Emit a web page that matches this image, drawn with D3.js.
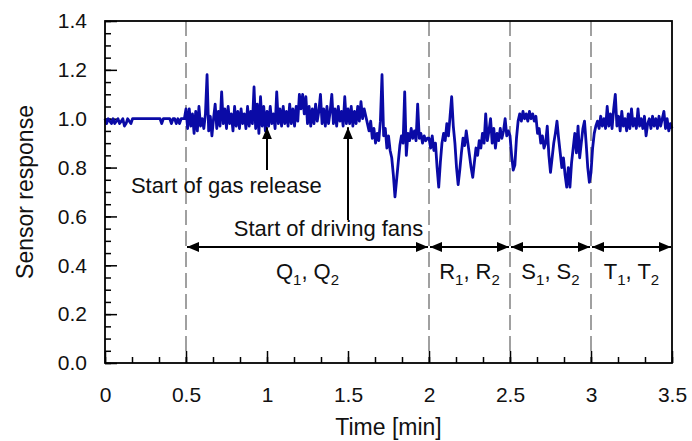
<!DOCTYPE html>
<html>
<head>
<meta charset="utf-8">
<script src="https://cdn.jsdelivr.net/npm/d3@7"></script>
<style>
  body { margin: 0; background: #fff; }
  text { font-family: Arial, "Liberation Sans", sans-serif; fill: #111; }
</style>
</head>
<body>
<svg id="chart" width="692" height="441"></svg>
<script>
// sampled every 0.01 min, one array per half minute
const dt = 0.01;
const seg0 = [1.00,0.98,1.00,0.99,0.98,1.00,0.98,0.99,1.00,0.98,
  0.99,1.00,0.97,0.98,1.00,0.99,0.98,1.00,1.00,1.00,
  1.00,1.00,1.00,1.00,1.00,1.00,1.00,1.00,1.00,1.00,
  1.00,1.00,1.00,1.00,1.00,0.98,1.00,1.00,1.00,1.00,
  1.00,0.98,1.00,1.00,0.98,1.00,0.98,1.00,1.00,1.00];
const seg1 = [1.04,0.96,1.04,0.97,1.02,0.94,1.03,0.95,1.05,0.97,
  1.00,0.96,1.02,1.18,0.95,1.01,0.93,1.00,1.06,0.96,
  1.03,0.97,1.11,0.98,1.04,0.96,1.05,0.98,1.02,0.95,
  1.05,0.97,1.03,0.96,1.04,0.98,1.02,0.96,1.05,0.97,
  1.03,0.98,1.13,0.96,1.06,0.94,1.09,0.97,1.05,0.95];
const seg2 = [1.03,0.97,1.05,0.98,1.02,0.96,1.11,0.98,1.04,0.97,
  1.05,0.98,1.03,0.97,1.06,0.98,1.04,0.97,1.05,0.99,
  1.10,1.04,1.10,1.02,1.09,0.98,1.05,0.97,1.04,0.98,
  1.06,0.99,1.03,1.10,0.98,1.04,0.97,1.05,0.98,1.03,
  1.10,0.98,1.04,0.97,1.05,0.99,1.03,0.97,1.09,0.98];
const seg3 = [1.04,0.98,1.05,0.97,1.03,0.98,1.05,0.99,1.07,1.00,
  1.04,1.01,0.98,0.95,0.99,0.92,0.96,0.90,0.94,0.91,
  0.99,1.18,0.93,0.96,0.88,0.93,0.87,0.84,0.77,0.68,
  0.75,0.82,0.89,0.93,0.90,1.11,0.85,0.94,0.91,0.96,
  0.92,0.95,0.91,1.06,0.92,0.94,0.90,0.93,0.91,0.92];
const seg4 = [0.92,0.88,0.93,0.87,0.90,0.80,0.72,0.82,0.90,0.94,
  0.91,0.98,0.93,1.01,1.09,0.97,0.90,0.80,0.73,0.79,
  0.86,0.92,0.89,0.95,0.90,0.85,0.80,0.76,0.82,0.88,
  0.85,0.91,0.88,0.94,0.90,1.02,0.91,0.95,1.00,0.90,
  0.96,0.88,0.94,0.91,0.96,0.92,0.95,1.00,0.93,0.95];
const seg5 = [0.93,0.85,0.79,0.81,0.92,0.99,1.02,0.99,1.03,1.00,
  1.02,0.99,1.03,1.00,1.02,0.99,1.01,0.94,0.96,0.90,
  0.93,0.88,0.90,0.97,0.85,0.78,0.84,0.90,0.94,0.99,
  0.92,0.86,0.80,0.84,0.77,0.72,0.80,0.72,0.82,0.88,
  0.94,0.86,0.97,0.84,0.90,0.96,0.99,0.90,0.80,0.74];
const seg6 = [0.78,0.88,0.94,0.97,0.99,0.96,1.01,0.97,1.00,0.96,
  1.05,0.97,1.02,0.96,1.04,1.10,0.97,1.01,0.95,1.03,
  0.97,1.00,0.95,1.02,0.96,1.04,0.97,1.00,0.96,1.04,
  0.97,1.00,0.96,1.01,0.93,0.98,1.00,0.96,1.01,0.97,
  1.00,0.96,1.01,0.97,1.00,1.03,0.96,1.00,0.95,0.98,
  0.96];

const xTicks = [0, 0.5, 1, 1.5, 2, 2.5, 3, 3.5];
const yTicks = [0, 0.2, 0.4, 0.6, 0.8, 1.0, 1.2, 1.4];
const dividers = [0.5, 2, 2.5, 3];
const phaseFrom = [0.5, 2, 2.5, 3];
const phaseTo = [2, 2.5, 3, 3.5];
const phaseLetter = ["Q", "R", "S", "T"];

const svg = d3.select("#chart");
const W = +svg.attr("width"), H = +svg.attr("height");
const m = {top: 21, right: 20, bottom: 78, left: 105};
const w = W - m.left - m.right, h = H - m.top - m.bottom;
const g = svg.append("g").attr("transform", `translate(${m.left},${m.top})`);

const x = d3.scaleLinear().domain([0, 3.5]).range([0, w]);
const y = d3.scaleLinear().domain([0, 1.4]).range([h, 0]);

const response = [].concat(seg0, seg1, seg2, seg3, seg4, seg5, seg6);
const data = response.map((v, i) => ({t: i * dt, v: v}));

// arrow head
const defs = svg.append("defs");
defs.append("marker").attr("id", "head")
  .attr("viewBox", "0 0 12 10").attr("refX", 12).attr("refY", 5)
  .attr("markerWidth", 12).attr("markerHeight", 10)
  .attr("markerUnits", "userSpaceOnUse").attr("orient", "auto-start-reverse")
  .append("path").attr("d", "M0,0L12,5L0,10Z").attr("fill", "#000");

// dashed phase dividers
g.selectAll(".div").data(dividers).enter().append("line")
  .attr("x1", d => x(d)).attr("x2", d => x(d))
  .attr("y1", 0).attr("y2", h)
  .attr("stroke", "#a0a0a0").attr("stroke-width", 2)
  .attr("stroke-dasharray", "15,6");

// minor ticks
const minorY = g.append("g").call(d3.axisLeft(y).tickValues(d3.range(0, 1.401, 0.05)).tickSize(-6).tickFormat(""));
const minorX = g.append("g").attr("transform", `translate(0,${h})`)
  .call(d3.axisBottom(x).tickValues(d3.range(0, 3.501, 1 / 6)).tickSize(-6).tickFormat(""));

// major ticks
const yAxis = g.append("g")
  .call(d3.axisLeft(y).tickValues(yTicks).tickSize(-12).tickPadding(18).tickFormat(d3.format(".1f")));
const xAxis = g.append("g").attr("transform", `translate(0,${h})`)
  .call(d3.axisBottom(x).tickValues(xTicks).tickSize(-12).tickPadding(24).tickFormat(d3.format("")));

[minorY, minorX, yAxis, xAxis].forEach(a => {
  a.select(".domain").remove();
  a.selectAll("line").attr("stroke", "#000").attr("stroke-width", 1.5);
  a.selectAll("text").attr("font-size", 21).attr("font-family", "Arial, 'Liberation Sans', sans-serif").attr("fill", "#111");
});

// signal
const line = d3.line().x(d => x(d.t)).y(d => y(d.v));
g.append("path").datum(data)
  .attr("fill", "none").attr("stroke", "#0a0aa6")
  .attr("stroke-width", 2.8).attr("stroke-linejoin", "round")
  .attr("d", line);

// annotations
g.append("line").attr("x1", x(1)).attr("x2", x(1))
  .attr("y1", y(0.79)).attr("y2", y(0.965))
  .attr("stroke", "#000").attr("stroke-width", 2).attr("marker-end", "url(#head)");
g.append("text").attr("x", x(0.16)).attr("y", y(0.695))
  .attr("font-size", 22).text("Start of gas release");

g.append("line").attr("x1", x(1.5)).attr("x2", x(1.5))
  .attr("y1", y(0.585)).attr("y2", y(0.965))
  .attr("stroke", "#000").attr("stroke-width", 2).attr("marker-end", "url(#head)");
g.append("text").attr("x", x(1.965)).attr("y", y(0.52))
  .attr("text-anchor", "end").attr("font-size", 22).text("Start of driving fans");

// phase ranges
const yArrow = y(0.475);
const phases = g.selectAll(".phase").data(phaseLetter).enter().append("g");
phases.append("line")
  .attr("x1", (d, i) => x(phaseFrom[i]) + 1).attr("x2", (d, i) => x(phaseTo[i]) - 1)
  .attr("y1", yArrow).attr("y2", yArrow)
  .attr("stroke", "#000").attr("stroke-width", 2)
  .attr("marker-start", "url(#head)").attr("marker-end", "url(#head)");
const lbl = phases.append("text")
  .attr("x", (d, i) => x((phaseFrom[i] + phaseTo[i]) / 2))
  .attr("y", y(0.345)).attr("text-anchor", "middle").attr("font-size", 22);
lbl.append("tspan").text(d => d);
lbl.append("tspan").attr("font-size", 15).attr("dy", 6).text("1");
lbl.append("tspan").attr("dy", -6).text(d => ", " + d);
lbl.append("tspan").attr("font-size", 15).attr("dy", 6).text("2");

// frame
g.append("rect").attr("width", w).attr("height", h)
  .attr("fill", "none").attr("stroke", "#000").attr("stroke-width", 1.8);

// axis titles
svg.append("text").attr("x", m.left + w / 2).attr("y", 435)
  .attr("text-anchor", "middle").attr("font-size", 23).text("Time [min]");
svg.append("text").attr("transform", `translate(33,${m.top + h / 2}) rotate(-90)`)
  .attr("text-anchor", "middle").attr("font-size", 23).text("Sensor response");
</script>
</body>
</html>
